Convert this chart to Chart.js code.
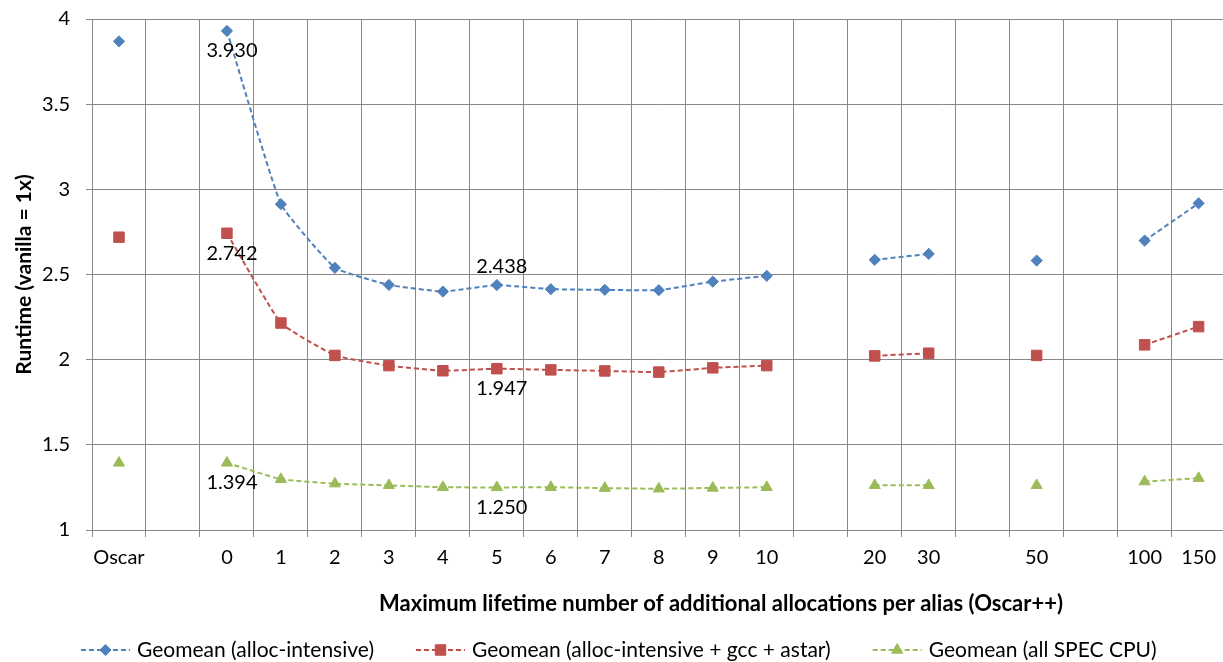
<!DOCTYPE html>
<html>
<head>
<meta charset="utf-8">
<title>Runtime vs. maximum lifetime allocations per alias</title>
<script src="https://cdn.jsdelivr.net/npm/chart.js@4"></script>
<style>
  html, body { margin: 0; padding: 0; background: #ffffff; overflow: hidden; }
  #wrap { width: 1234px; height: 662px; }
</style>
</head>
<body>
<div id="wrap"><canvas id="chart" width="1234" height="662"></canvas></div>
<script>
// Category axis: Oscar, then Oscar++ with a growing allocation budget.
// Empty strings are spacer slots that break the lines.
const categories = ["Oscar", "", "0", "1", "2", "3", "4", "5", "6", "7", "8", "9", "10",
                    "", "20", "30", "", "50", "", "100", "150"];

const seriesNames = [
  "Geomean (alloc-intensive)",
  "Geomean (alloc-intensive + gcc + astar)",
  "Geomean (all SPEC CPU)"
];

const allocIntensive = [3.869, null, 3.930, 2.913, 2.539, 2.439, 2.400, 2.438, 2.414, 2.410, 2.408, 2.458, 2.492,
                        null, 2.586, 2.621, null, 2.582, null, 2.699, 2.918];
const allocGccAstar  = [2.719, null, 2.742, 2.215, 2.025, 1.965, 1.935, 1.947, 1.940, 1.934, 1.927, 1.952, 1.965,
                        null, 2.022, 2.038, null, 2.025, null, 2.087, 2.194];
const allSpecCpu     = [1.394, null, 1.394, 1.298, 1.272, 1.262, 1.251, 1.250, 1.251, 1.246, 1.242, 1.247, 1.251,
                        null, 1.262, 1.262, null, 1.262, null, 1.284, 1.304];

const yTicks = { min: 1, max: 4, step: 0.5 };

// Points that carry a value label: [series, category, side]
const labelledPoints = [
  [0, "0", "below"], [0, "5", "above"],
  [1, "0", "below"], [1, "5", "below"],
  [2, "0", "below"], [2, "5", "below"]
];

const FONT = "Lato, 'Open Sans', 'DejaVu Sans', sans-serif";
const FONT_SIZE = 20;
const GRID = "#888888";

const colors = ["#4f81bd", "#c0504d", "#9bbb59"];
const markers = [
  { style: "rectRot", radius: 5.6 },
  { style: "rect", radius: 7.4 },
  { style: "triangle", radius: 6.4 }
];
const values = [allocIntensive, allocGccAstar, allSpecCpu];

const datasets = values.map((v, i) => ({
  label: seriesNames[i],
  data: v,
  borderColor: colors[i],
  backgroundColor: colors[i],
  borderWidth: 2,
  borderDash: [5, 3],
  pointStyle: markers[i].style,
  pointRadius: markers[i].radius,
  pointHoverRadius: markers[i].radius,
  pointBorderWidth: 1,
  pointBackgroundColor: colors[i],
  pointBorderColor: colors[i],
  tension: 0.12,
  spanGaps: false,
  fill: false
}));

// Value labels beside selected points
const valueLabels = {
  id: "valueLabels",
  afterDatasetsDraw(chart) {
    const ctx = chart.ctx;
    ctx.save();
    ctx.font = FONT_SIZE + "px " + FONT;
    ctx.fillStyle = "#000000";
    ctx.textAlign = "center";
    ctx.textBaseline = "middle";
    labelledPoints.forEach(([si, cat, side]) => {
      const idx = categories.indexOf(cat);
      const el = chart.getDatasetMeta(si).data[idx];
      const v = chart.data.datasets[si].data[idx];
      const dy = side === "above" ? -19 : 20;
      ctx.fillText(v.toFixed(3), el.x + 5, el.y + dy);
    });
    ctx.restore();
  }
};

// Axis title under the category labels and a line-and-marker legend
const bottomTexts = {
  id: "bottomTexts",
  afterDraw(chart) {
    const ctx = chart.ctx;
    const area = chart.chartArea;
    ctx.save();
    ctx.fillStyle = "#000000";
    ctx.textBaseline = "middle";
    ctx.textAlign = "center";
    ctx.font = "bold 22px " + FONT;
    ctx.fillText("Maximum lifetime number of additional allocations per alias (Oscar++)", 721, 604);

    ctx.font = "21px " + FONT;
    const lineW = 49, textGap = 7, itemGap = 42, y = 650;
    const widths = chart.data.datasets.map(ds => ctx.measureText(ds.label).width);
    const total = widths.reduce((a, w) => a + lineW + textGap + w, 0) + itemGap * (widths.length - 1);
    let x = (12 + area.right) / 2 - total / 2;
    chart.data.datasets.forEach((ds, i) => {
      ctx.save();
      ctx.strokeStyle = ds.borderColor;
      ctx.lineWidth = ds.borderWidth;
      ctx.setLineDash(ds.borderDash);
      ctx.beginPath();
      ctx.moveTo(x, y);
      ctx.lineTo(x + lineW, y);
      ctx.stroke();
      ctx.setLineDash([]);
      ctx.fillStyle = ds.pointBackgroundColor;
      ctx.strokeStyle = ds.pointBorderColor;
      ctx.lineWidth = ds.pointBorderWidth;
      Chart.helpers.drawPoint(ctx, {
        pointStyle: ds.pointStyle, rotation: 0, radius: ds.pointRadius, borderWidth: ds.pointBorderWidth
      }, x + lineW / 2, y);
      ctx.restore();
      ctx.textAlign = "left";
      ctx.fillStyle = "#000000";
      ctx.fillText(ds.label, x + lineW + textGap, y);
      x += lineW + textGap + widths[i] + itemGap;
    });
    ctx.restore();
  }
};

new Chart(document.getElementById("chart"), {
  type: "line",
  data: { labels: categories, datasets },
  plugins: [valueLabels, bottomTexts],
  options: {
    responsive: false,
    animation: false,
    devicePixelRatio: 1,
    layout: { padding: { left: 12, right: 0, top: 19, bottom: 80 } },
    plugins: {
      legend: { display: false },
      tooltip: { enabled: false }
    },
    scales: {
      x: {
        type: "category",
        offset: true,
        afterFit(scale) { scale.height = 52; scale.paddingLeft = 0; scale.paddingRight = 0; },
        grid: { offset: true, color: GRID, lineWidth: 1, tickLength: 7, drawTicks: true },
        border: { color: GRID, width: 1 },
        ticks: {
          autoSkip: false, maxRotation: 0, minRotation: 0, padding: 9,
          color: "#000000", font: { family: FONT, size: FONT_SIZE }
        }
      },
      y: {
        min: yTicks.min,
        max: yTicks.max,
        afterFit(scale) { scale.width = 80; scale.paddingTop = 0; scale.paddingBottom = 0; },
        grid: { color: GRID, lineWidth: 1, tickLength: 6, drawTicks: true },
        border: { color: GRID, width: 1 },
        ticks: {
          stepSize: yTicks.step, padding: 16,
          color: "#000000", font: { family: FONT, size: FONT_SIZE },
          callback: (v) => String(v)
        },
        title: {
          display: true,
          text: "Runtime (vanilla = 1x)",
          color: "#000000",
          padding: { top: 0, bottom: 0 },
          font: { family: FONT, size: 21, weight: "bold" }
        }
      }
    }
  }
});
</script>
</body>
</html>
